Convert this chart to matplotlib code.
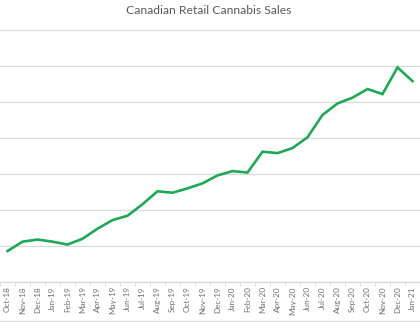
import matplotlib
matplotlib.use("Agg")
import matplotlib.pyplot as plt
import numpy as np

# monthly retail sales, millions CAD
months = ["Oct-18", "Nov-18", "Dec-18", "Jan-19", "Feb-19", "Mar-19", "Apr-19",
          "May-19", "Jun-19", "Jul-19", "Aug-19", "Sep-19", "Oct-19", "Nov-19",
          "Dec-19", "Jan-20", "Feb-20", "Mar-20", "Apr-20", "May-20", "Jun-20",
          "Jul-20", "Aug-20", "Sep-20", "Oct-20", "Nov-20", "Dec-20", "Jan-21"]
sales = [43, 56, 59, 56, 52, 60, 74, 86, 92, 108, 126, 124, 130, 137,
         148, 154, 152, 181, 179, 186, 201, 232, 248, 256, 268, 261, 298, 279]

plt.rcParams['font.family'] = ['Lato', 'DejaVu Sans']

fig = plt.figure(figsize=(4.2, 3.22), dpi=100)
ax = fig.add_axes([0, 40 / 322, 1, 252 / 322])

x = np.arange(len(months))
ax.plot(x, sales, color='#1fa855', linewidth=1.9, solid_joinstyle='miter')

ax.set_xlim(-7 / 15.185, 27 + 3 / 15.185)
ax.set_ylim(0, 350)
ax.set_yticks(np.arange(0, 351, 50))
ax.yaxis.grid(True, color='#d9d9d9', linewidth=0.9)
ax.set_axisbelow(True)
ax.tick_params(axis='y', left=False, labelleft=False)

ax.set_xticks(x)
ax.set_xticklabels(months, rotation=90, fontsize=5.9, color='#707070')
ax.set_xticks(np.arange(-0.5, len(months), 1), minor=True)
ax.tick_params(axis='x', which='major', length=0, pad=3)
ax.tick_params(axis='x', which='minor', length=3, color='#d9d9d9')

for s in ['top', 'right', 'left']:
    ax.spines[s].set_visible(False)
ax.spines['bottom'].set_color('#d9d9d9')
ax.spines['bottom'].set_linewidth(0.9)

fig.text(0.497, 1 - 11 / 322, "Canadian Retail Cannabis Sales", ha='center',
         va='center', fontsize=8.7, color='#595959')

# chart border at the bottom
fig.add_artist(plt.Line2D([0, 1], [1.5 / 322, 1.5 / 322], color='#d9d9d9', linewidth=0.9))

fig.savefig("out.png", dpi=100)
